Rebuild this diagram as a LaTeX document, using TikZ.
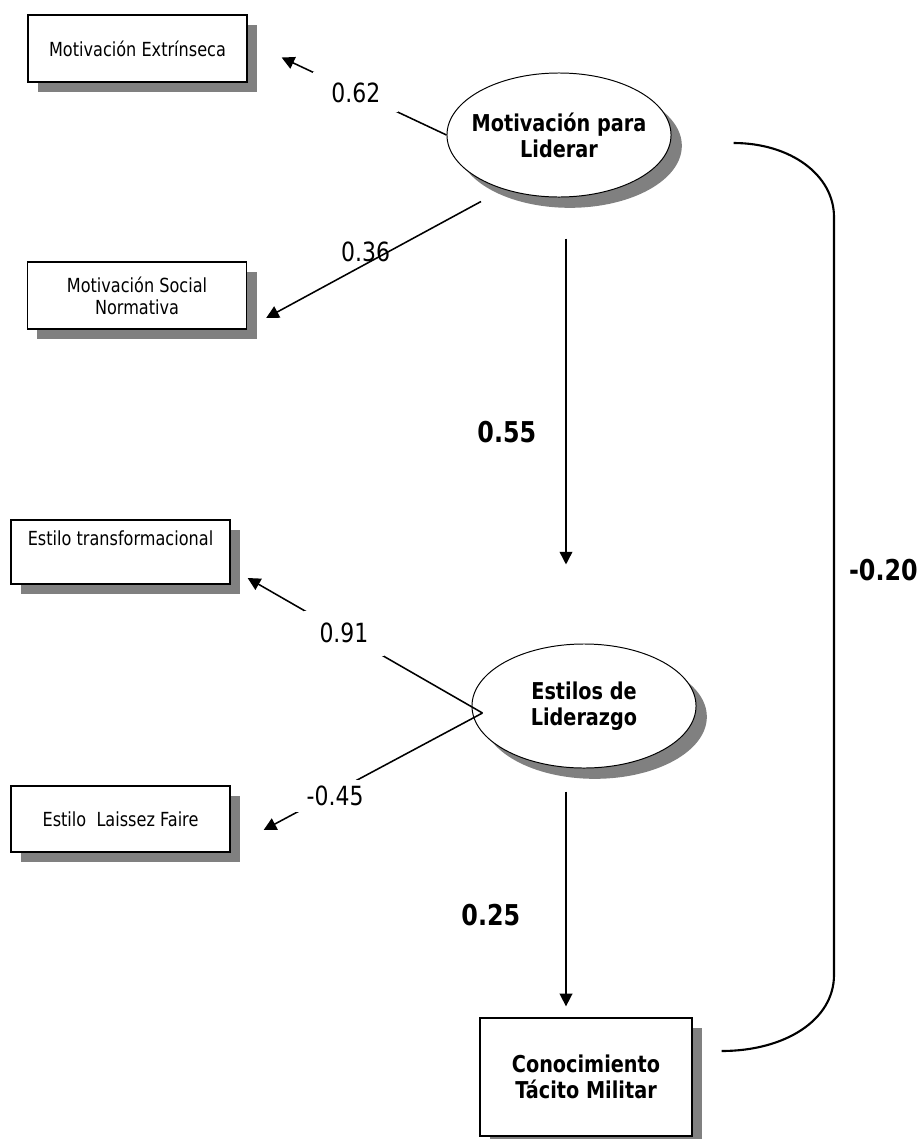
\documentclass[tikz,border=0pt]{standalone}
\usepackage{fontspec}
\setmainfont{DejaVu Sans}[FakeStretch=0.83]
\definecolor{shadowgray}{RGB}{128,128,128}
\usetikzlibrary{shapes,arrows.meta,shadows}
\newcommand{\boxfont}{\fontsize{13.8}{15.6}\selectfont}
\newcommand{\latfont}{\fontsize{16.5}{18.5}\selectfont\bfseries}
\newcommand{\coeffont}{\fontsize{18.8}{21}\selectfont}
\newcommand{\pathfont}{\fontsize{20.4}{23}\selectfont\bfseries}
\tikzstyle{indicator} = [rectangle, draw, line width=0.9pt, fill=white,
    align=center, font=\boxfont, minimum width=5.475cm, minimum height=1.675cm,
    inner sep=0pt, drop shadow={shadow xshift=0.25cm, shadow yshift=-0.25cm,
    fill=shadowgray, opacity=1}]
\tikzstyle{latent} = [ellipse, draw, line width=0.7pt, fill=white,
    align=center, font=\latfont, minimum width=5.6cm, minimum height=3.1cm,
    inner xsep=-0.8cm, inner ysep=0pt, drop shadow={shadow xshift=0.27cm,
    shadow yshift=-0.27cm, fill=shadowgray, opacity=1}]
\tikzstyle{line} = [draw, line width=1.1pt, -{Triangle[length=9pt,width=9pt]}]
\tikzstyle{coef} = [font=\coeffont, fill=white]
\tikzstyle{pathlbl} = [font=\pathfont, inner sep=0pt]

\begin{document}
\begin{tikzpicture}[x=0.025cm, y=-0.025cm]
  \useasboundingbox (0,0) rectangle (920,1139);
  % indicators
  \node [indicator] (ext) at (137.5,48.5) {Motivación Extrínseca};
  \node [indicator] (soc) at (137,295.5) {Motivación Social\\Normativa};
  \node [indicator, minimum height=1.6cm] (tra) at (120.5,552) {Estilo transformacional\\ \strut};
  \node [indicator, minimum height=1.65cm] (lai) at (120.5,819) {Estilo~ Laissez Faire};
  % latent variables
  \node [latent] (mot) at (559,135) {Motivación para\\Liderar};
  \node [latent] (est) at (584,706) {Estilos de\\Liderazgo};
  \node [indicator, font=\latfont, minimum width=5.3cm, minimum height=2.95cm] (tac) at (586,1077) {Conocimiento\\Tácito Militar};
  % loadings
  \path [line] (mot.west) -- node[coef, pos=0.55, inner xsep=0.45cm, inner ysep=0.25cm] {0.62} ([shift={(34,9)}]ext.east);
  \path [line] ([shift={(-78,4)}]mot.south) -- node[font=\coeffont, pos=0.537, yshift=0.3cm] {0.36} ([shift={(19,22.5)}]soc.east);
  \path [line] ([shift={(11,7)}]est.west) -- node[coef, pos=0.59, inner xsep=0.4cm, inner ysep=0.32cm] {0.91} ([shift={(17,26)}]tra.east);
  \path [line] ([shift={(11,7)}]est.west) -- node[coef, pos=0.71, inner xsep=0.05cm, inner ysep=0.15cm] {\hspace*{0.4cm}\raisebox{-0.15cm}{-0.45}} ([shift={(33,11)}]lai.east);
  % structural paths
  \path [line, shorten <=1.025cm, shorten >=1.975cm] ([shift={(7,0)}]mot.south) -- node[pathlbl, pos=0.525, left=0.725cm] {0.55} ([shift={(-18,0)}]est.north);
  \path [line, shorten <=0.575cm, shorten >=0.275cm] ([shift={(-18,0)}]est.south) -- node[pathlbl, pos=0.59, left=1.125cm] {0.25} ([shift={(-20,0)}]tac.north);
  \draw [line width=1.5pt] ([shift={(62,8)}]mot.east) .. controls +(57,0) and (834,175) .. (834,217)
    -- node[pathlbl, pos=0.466, right=0.35cm] {-0.20} (834,975)
    .. controls (834,1020) and (785,1051) .. ([shift={(29,-26)}]tac.east);
\end{tikzpicture}
\end{document}
